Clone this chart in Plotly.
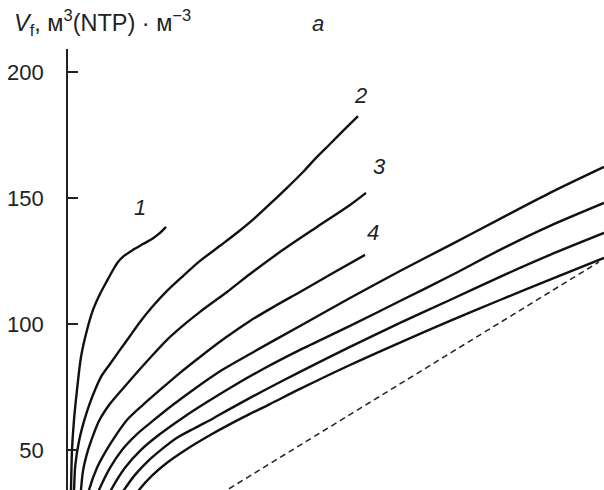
import plotly.graph_objects as go

# Curve data (x: arbitrary abscissa units, V: Vf, m3(NTP)/m3)
c1_x = [0.045, 0.06, 0.08, 0.12, 0.18, 0.26, 0.38, 0.50, 0.64, 0.78, 0.90, 1.00, 1.12, 1.30, 1.50, 1.68, 1.84, 1.96]
c1_v = [22.2, 34.1, 50.0, 61.9, 73.8, 86.9, 97.6, 105.6, 111.9, 117.1, 121.4, 124.6, 127.0, 129.4, 131.7, 133.7, 136.1, 138.5]

c2_x = [0.08, 0.12, 0.146, 0.226, 0.328, 0.432, 0.54, 0.66, 0.84, 1.04, 1.24, 1.44, 1.70, 1.98, 2.30, 2.64,
        3.04, 3.40, 3.74, 4.04, 4.38, 4.70, 4.98, 5.24, 5.52, 5.80]
c2_v = [22.2, 34.1, 44.0, 54.0, 61.9, 68.3, 73.8, 79.0, 84.1, 89.7, 95.2, 100.8, 107.1, 113.1, 119.0, 125.0,
        131.0, 136.5, 142.1, 147.6, 154.0, 160.3, 166.3, 171.4, 177.0, 182.5]

c3_x = [0.23, 0.26, 0.304, 0.402, 0.512, 0.62, 0.84, 1.10, 1.44, 1.64, 1.98, 2.34, 2.64, 3.18, 3.64, 4.30, 4.98, 5.64, 5.96]
c3_v = [22.2, 34.1, 42.1, 50.0, 56.3, 61.5, 68.3, 74.4, 82.1, 86.5, 93.7, 100.0, 104.8, 112.7, 119.8, 129.4, 138.5, 147.2, 152.0]

c4_x = [0.28, 0.42, 0.58, 0.76, 0.96, 1.18, 1.50, 1.84, 2.24, 2.64, 3.14, 3.64, 4.14, 4.64, 5.30, 5.94]
c4_v = [22.2, 34.1, 42.9, 49.6, 55.9, 61.9, 67.9, 73.8, 80.6, 86.9, 94.4, 101.2, 107.1, 112.7, 120.2, 127.4]

c5_x = [0.38, 0.62, 0.84, 1.08, 1.38, 1.72, 2.10, 2.50, 3.08, 3.64, 4.64, 5.64, 6.64, 7.64, 8.64, 9.64, 10.72]
c5_v = [22.2, 34.1, 42.9, 50.0, 56.3, 61.9, 67.9, 73.8, 81.7, 88.1, 99.2, 110.3, 121.0, 131.3, 141.7, 152.0, 162.3]

c6_x = [0.56, 0.86, 1.14, 1.46, 1.84, 2.32, 2.78, 3.24, 3.94, 4.64, 5.64, 6.64, 7.64, 8.64, 9.64, 10.72]
c6_v = [22.2, 34.1, 42.9, 50.0, 56.3, 63.1, 69.0, 74.6, 82.5, 89.7, 99.2, 109.1, 119.0, 129.4, 138.9, 148.0]

c7_x = [0.74, 1.12, 1.34, 1.58, 1.86, 2.18, 2.54, 2.92, 3.24, 3.90, 4.64, 5.64, 6.64, 7.64, 8.64, 9.64, 10.72]
c7_v = [22.2, 34.1, 40.1, 45.2, 50.0, 54.8, 58.7, 62.7, 66.3, 73.4, 81.0, 90.9, 100.4, 109.5, 118.7, 127.4, 136.1]

c8_x = [1.00, 1.42, 1.68, 2.00, 2.32, 2.88, 3.52, 4.04, 4.64, 5.64, 6.64, 7.64, 8.64, 9.64, 10.72]
c8_v = [22.2, 34.1, 39.8, 45.2, 49.6, 56.3, 63.1, 68.2, 74.2, 83.7, 92.6, 101.2, 109.5, 117.6, 126.2]

dash_x = [3.22, 10.62]
dash_v = [34.6, 124.6]

y_ticks = [50, 100, 150, 200]
curve_labels = ["1", "2", "3", "4"]

curves = [(c1_x, c1_v), (c2_x, c2_v), (c3_x, c3_v), (c4_x, c4_v),
          (c5_x, c5_v), (c6_x, c6_v), (c7_x, c7_v), (c8_x, c8_v)]

FONT = "Liberation Sans, Arial, sans-serif"
fig = go.Figure()
for cx, cv in curves:
    fig.add_trace(go.Scatter(x=cx, y=cv, mode="lines",
                             line=dict(color="#111111", width=2.4, shape="spline", smoothing=0.8),
                             hoverinfo="skip"))
fig.add_trace(go.Scatter(x=dash_x, y=dash_v, mode="lines",
                         line=dict(color="#222222", width=1.5, dash="6px,4px"),
                         hoverinfo="skip"))

annotations = []
offsets = [(-26, 19), (2, 21), (13, 26), (8, 22)]
for (cx, cv), lab, (dx, dy) in zip(curves[:4], curve_labels, offsets):
    annotations.append(dict(x=cx[-1], y=cv[-1], xref="x", yref="y", text="<i>" + lab + "</i>",
                            showarrow=False, xshift=dx, yshift=dy,
                            font=dict(family=FONT, size=22, color="#222222")))

annotations.append(dict(x=-0.104, y=1.059, xref="paper", yref="paper", xanchor="left", yanchor="middle",
                        text="<i>V</i><sub>f</sub>, м<sup>3</sup>(NTP) · м<sup>−3</sup>",
                        showarrow=False, font=dict(family=FONT, size=23.5, color="#222222")))
annotations.append(dict(x=0.466, y=1.057, xref="paper", yref="paper", xanchor="center", yanchor="middle",
                        text="<i>a</i>", showarrow=False,
                        font=dict(family=FONT, size=22, color="#222222")))

fig.update_layout(
    width=604, height=490,
    margin=dict(l=68, r=0, t=49, b=0, autoexpand=False),
    paper_bgcolor="white", plot_bgcolor="white",
    showlegend=False,
    annotations=annotations,
    xaxis=dict(range=[0, 10.72], visible=False, showgrid=False, zeroline=False, automargin=False),
    yaxis=dict(range=[34.1, 209.1], showgrid=False, zeroline=False, automargin=False,
               showline=True, linecolor="#222222", linewidth=1.8,
               ticks="inside", ticklen=10, tickwidth=1.5, tickcolor="#222222",
               tickvals=y_ticks, ticktext=[str(t) for t in y_ticks],
               ticklabelstandoff=18,
               tickfont=dict(family=FONT, size=22, color="#222222")),
)

fig.write_html("out.html", config={"displayModeBar": False},
               post_script="document.body.style.margin='0px';")
